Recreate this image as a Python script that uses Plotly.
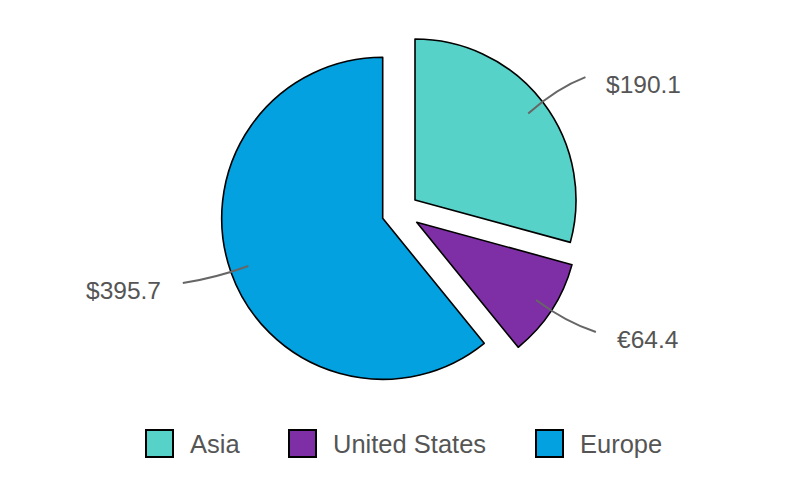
import math
import plotly.graph_objects as go

# ---- data ----
categories = ["Asia", "United States", "Europe"]
values = [190.1, 64.4, 395.7]
currency = ["$", "€", "$"]

# ---- style / layout ----
colors = ["#57D2C9", "#7F2FA5", "#03A1E0"]
OFF = 8                 # page body margin in the browser
W, H = 800 - 2 * OFF, 500 - 2 * OFF
R = 161
# window-pixel centre of each slice's apex (Asia and United States are pulled out)
centers = [(415.0, 200.0), (416.7, 222.3), (382.7, 218.3)]
text_color = "#555555"
font_family = "Liberation Sans, Arial, Helvetica, sans-serif"


def px(x, y):
    return (x - OFF) / W, 1 - (y - OFF) / H


fig = go.Figure()
for i, (cx, cy) in enumerate(centers):
    xa, yb = px(cx - R, cy + R)
    xb, ya = px(cx + R, cy - R)
    fig.add_trace(go.Pie(
        labels=categories,
        values=values,
        sort=False,
        direction="clockwise",
        rotation=0,
        marker=dict(
            colors=[colors[j] if j == i else "rgba(0,0,0,0)" for j in range(len(values))],
            line=dict(color="#000000", width=[1.6 if j == i else 0 for j in range(len(values))]),
        ),
        textinfo="none",
        hoverinfo="label+value",
        showlegend=False,
        domain=dict(x=[xa, xb], y=[yb, ya]),
    ))

# ---- leader lines and outside labels, computed from the data ----
total = sum(values)
cum = 0.0
shapes = []
annotations = []
for i, v in enumerate(values):
    mid_deg = (cum + v / 2) / total * 360
    cum += v
    mid = math.radians(mid_deg)
    ux, uy = math.sin(mid), -math.cos(mid)
    right = ux >= 0
    # end of leader line bends slightly toward the horizontal
    toward = 90 if right else 270
    end_deg = mid_deg + (1.6 if toward > mid_deg else -1.6)
    end = math.radians(end_deg)
    cx, cy = centers[i]
    sx, sy = cx + 0.885 * R * ux, cy + 0.885 * R * uy
    ex, ey = cx + 1.305 * R * math.sin(end), cy - 1.305 * R * math.cos(end)
    qx, qy = sx + 0.5 * (ex - sx), ey + 0.3 * (sy - ey)
    a, b = px(sx, sy)
    c, d = px(qx, qy)
    e, f = px(ex, ey)
    shapes.append(dict(type="path", xref="paper", yref="paper",
                       path=f"M {a},{b} Q {c},{d} {e},{f}",
                       line=dict(color="#666666", width=2)))
    tx = ex + 19 if right else ex - 20
    lx, ly = px(tx, ey + 7)
    annotations.append(dict(x=lx, y=ly, xref="paper", yref="paper",
                            text=f"{currency[i]}{v:.1f}", showarrow=False,
                            xanchor="left" if right else "right", yanchor="middle",
                            font=dict(family=font_family, size=24.5, color=text_color)))

# ---- legend drawn manually (large square swatches) ----
legend_x = [146, 289, 536]
sq = 27
legend_top = 430
for i, name in enumerate(categories):
    x0, y0 = px(legend_x[i], legend_top)
    x1, y1 = px(legend_x[i] + sq, legend_top + sq)
    shapes.append(dict(type="rect", xref="paper", yref="paper",
                       x0=x0, x1=x1, y0=y1, y1=y0,
                       fillcolor=colors[i], line=dict(color="#000000", width=2)))
    tx, ty = px(legend_x[i] + sq + 15, legend_top + sq / 2 + 0.5)
    annotations.append(dict(x=tx, y=ty, xref="paper", yref="paper", text=name,
                            showarrow=False, xanchor="left", yanchor="middle",
                            font=dict(family=font_family, size=25.5, color=text_color)))

fig.update_layout(
    width=W, height=H,
    margin=dict(l=0, r=0, t=0, b=0),
    paper_bgcolor="white",
    plot_bgcolor="white",
    showlegend=False,
    shapes=shapes,
    annotations=annotations,
)

fig.write_html("out.html")
